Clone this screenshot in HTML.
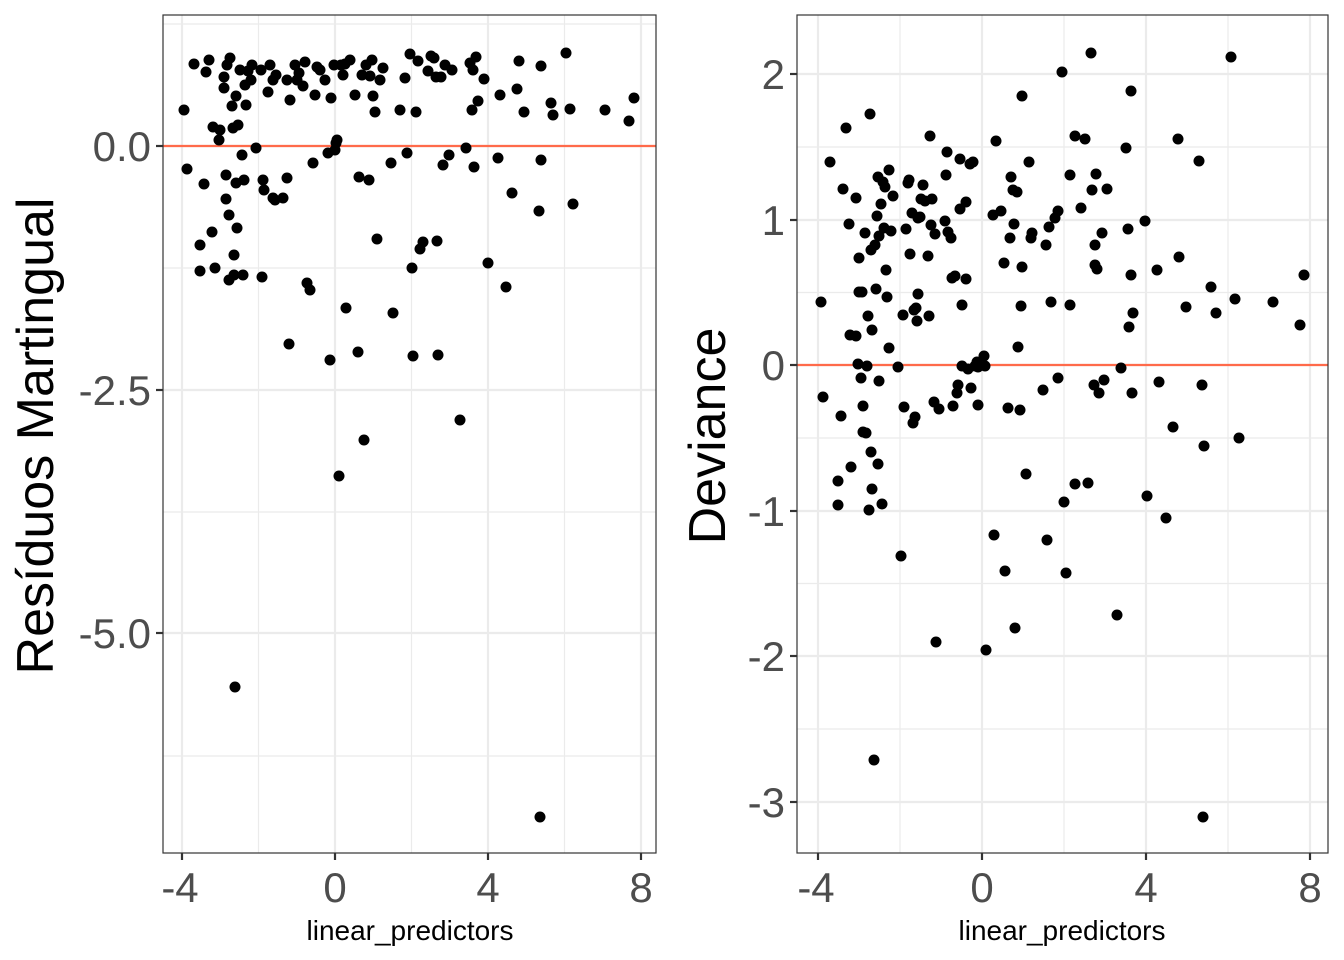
<!DOCTYPE html>
<html><head><meta charset="utf-8"><style>body{margin:0;background:#fff}svg{display:block}</style></head><body>
<svg width="1344" height="960" xmlns="http://www.w3.org/2000/svg" font-family="Liberation Sans, Arial, sans-serif">
<rect width="1344" height="960" fill="#fff"/>
<!-- LEFT PANEL -->
<g stroke="#ebebeb" stroke-width="1.2">
<line x1="163" x2="656" y1="24" y2="24"/><line x1="163" x2="656" y1="268" y2="268"/><line x1="163" x2="656" y1="512" y2="512"/><line x1="163" x2="656" y1="756" y2="756"/>
<line x1="258.5" x2="258.5" y1="15" y2="853"/><line x1="411.5" x2="411.5" y1="15" y2="853"/><line x1="564.5" x2="564.5" y1="15" y2="853"/>
</g>
<g stroke="#ebebeb" stroke-width="2.2">
<line x1="163" x2="656" y1="146" y2="146"/><line x1="163" x2="656" y1="390" y2="390"/><line x1="163" x2="656" y1="633" y2="633"/>
<line x1="182" x2="182" y1="15" y2="853"/><line x1="335" x2="335" y1="15" y2="853"/><line x1="488" x2="488" y1="15" y2="853"/><line x1="641" x2="641" y1="15" y2="853"/>
</g>
<line x1="163" x2="656" y1="146" y2="146" stroke="#ff6a4a" stroke-width="2.2"/>
<g fill="#000">
<circle cx="184" cy="110" r="5.5"/><circle cx="187" cy="169" r="5.5"/><circle cx="194" cy="64" r="5.5"/><circle cx="200" cy="245" r="5.5"/><circle cx="200" cy="271" r="5.5"/><circle cx="204" cy="184" r="5.5"/><circle cx="206" cy="72" r="5.5"/><circle cx="209" cy="60" r="5.5"/><circle cx="212" cy="232" r="5.5"/><circle cx="213" cy="127" r="5.5"/><circle cx="215" cy="268" r="5.5"/><circle cx="219" cy="140" r="5.5"/><circle cx="220" cy="130" r="5.5"/><circle cx="224" cy="77" r="5.5"/><circle cx="224" cy="88" r="5.5"/><circle cx="226" cy="175" r="5.5"/><circle cx="226" cy="199" r="5.5"/><circle cx="227" cy="65" r="5.5"/><circle cx="229" cy="215" r="5.5"/><circle cx="229" cy="280" r="5.5"/><circle cx="230" cy="58" r="5.5"/><circle cx="232" cy="106" r="5.5"/><circle cx="233" cy="128" r="5.5"/><circle cx="234" cy="255" r="5.5"/><circle cx="234" cy="275" r="5.5"/><circle cx="235" cy="687" r="5.5"/><circle cx="236" cy="96" r="5.5"/><circle cx="236" cy="183" r="5.5"/><circle cx="237" cy="228" r="5.5"/><circle cx="238" cy="125" r="5.5"/><circle cx="240" cy="70" r="5.5"/><circle cx="242" cy="155" r="5.5"/><circle cx="243" cy="275" r="5.5"/><circle cx="244" cy="180" r="5.5"/><circle cx="245" cy="85" r="5.5"/><circle cx="246" cy="105" r="5.5"/><circle cx="248" cy="71" r="5.5"/><circle cx="251" cy="80" r="5.5"/><circle cx="252" cy="65" r="5.5"/><circle cx="256" cy="148" r="5.5"/><circle cx="261" cy="70" r="5.5"/><circle cx="262" cy="277" r="5.5"/><circle cx="263" cy="180" r="5.5"/><circle cx="264" cy="190" r="5.5"/><circle cx="268" cy="92" r="5.5"/><circle cx="270" cy="65" r="5.5"/><circle cx="273" cy="198" r="5.5"/><circle cx="273" cy="80" r="5.5"/><circle cx="275" cy="200" r="5.5"/><circle cx="276" cy="75" r="5.5"/><circle cx="283" cy="198" r="5.5"/><circle cx="287" cy="80" r="5.5"/><circle cx="287" cy="178" r="5.5"/><circle cx="289" cy="344" r="5.5"/><circle cx="290" cy="100" r="5.5"/><circle cx="295" cy="65" r="5.5"/><circle cx="297" cy="80" r="5.5"/><circle cx="299" cy="73" r="5.5"/><circle cx="303" cy="86" r="5.5"/><circle cx="305" cy="62" r="5.5"/><circle cx="307" cy="283" r="5.5"/><circle cx="310" cy="290" r="5.5"/><circle cx="313" cy="163" r="5.5"/><circle cx="315" cy="95" r="5.5"/><circle cx="317" cy="67" r="5.5"/><circle cx="320" cy="70" r="5.5"/><circle cx="325" cy="80" r="5.5"/><circle cx="328" cy="153" r="5.5"/><circle cx="330" cy="360" r="5.5"/><circle cx="331" cy="98" r="5.5"/><circle cx="334" cy="65" r="5.5"/><circle cx="335" cy="150" r="5.5"/><circle cx="336" cy="143" r="5.5"/><circle cx="337" cy="140" r="5.5"/><circle cx="339" cy="476" r="5.5"/><circle cx="341" cy="65" r="5.5"/><circle cx="343" cy="75" r="5.5"/><circle cx="345" cy="64" r="5.5"/><circle cx="346" cy="308" r="5.5"/><circle cx="350" cy="60" r="5.5"/><circle cx="355" cy="95" r="5.5"/><circle cx="358" cy="352" r="5.5"/><circle cx="359" cy="177" r="5.5"/><circle cx="362" cy="75" r="5.5"/><circle cx="364" cy="440" r="5.5"/><circle cx="366" cy="65" r="5.5"/><circle cx="369" cy="180" r="5.5"/><circle cx="370" cy="76" r="5.5"/><circle cx="372" cy="60" r="5.5"/><circle cx="373" cy="96" r="5.5"/><circle cx="375" cy="112" r="5.5"/><circle cx="377" cy="239" r="5.5"/><circle cx="380" cy="80" r="5.5"/><circle cx="383" cy="68" r="5.5"/><circle cx="391" cy="163" r="5.5"/><circle cx="393" cy="313" r="5.5"/><circle cx="400" cy="110" r="5.5"/><circle cx="405" cy="78" r="5.5"/><circle cx="407" cy="153" r="5.5"/><circle cx="410" cy="54" r="5.5"/><circle cx="412" cy="268" r="5.5"/><circle cx="413" cy="356" r="5.5"/><circle cx="416" cy="112" r="5.5"/><circle cx="418" cy="61" r="5.5"/><circle cx="420" cy="249" r="5.5"/><circle cx="423" cy="242" r="5.5"/><circle cx="428" cy="71" r="5.5"/><circle cx="431" cy="56" r="5.5"/><circle cx="434" cy="58" r="5.5"/><circle cx="436" cy="77" r="5.5"/><circle cx="437" cy="241" r="5.5"/><circle cx="438" cy="355" r="5.5"/><circle cx="441" cy="77" r="5.5"/><circle cx="443" cy="165" r="5.5"/><circle cx="445" cy="65" r="5.5"/><circle cx="449" cy="155" r="5.5"/><circle cx="452" cy="70" r="5.5"/><circle cx="460" cy="420" r="5.5"/><circle cx="466" cy="148" r="5.5"/><circle cx="470" cy="63" r="5.5"/><circle cx="472" cy="110" r="5.5"/><circle cx="473" cy="70" r="5.5"/><circle cx="474" cy="167" r="5.5"/><circle cx="476" cy="57" r="5.5"/><circle cx="478" cy="101" r="5.5"/><circle cx="484" cy="79" r="5.5"/><circle cx="488" cy="263" r="5.5"/><circle cx="498" cy="158" r="5.5"/><circle cx="500" cy="95" r="5.5"/><circle cx="506" cy="287" r="5.5"/><circle cx="512" cy="193" r="5.5"/><circle cx="517" cy="89" r="5.5"/><circle cx="519" cy="61" r="5.5"/><circle cx="524" cy="112" r="5.5"/><circle cx="539" cy="211" r="5.5"/><circle cx="540" cy="817" r="5.5"/><circle cx="541" cy="160" r="5.5"/><circle cx="541" cy="66" r="5.5"/><circle cx="551" cy="103" r="5.5"/><circle cx="553" cy="115" r="5.5"/><circle cx="566" cy="53" r="5.5"/><circle cx="570" cy="109" r="5.5"/><circle cx="573" cy="204" r="5.5"/><circle cx="605" cy="110" r="5.5"/><circle cx="629" cy="121" r="5.5"/><circle cx="634" cy="98" r="5.5"/>
</g>
<rect x="163" y="15" width="493" height="838" fill="none" stroke="#333" stroke-width="1.2"/>
<g stroke="#333" stroke-width="2.2">
<line x1="156" x2="163" y1="146" y2="146"/><line x1="156" x2="163" y1="390" y2="390"/><line x1="156" x2="163" y1="633" y2="633"/>
<line x1="182" x2="182" y1="853" y2="860"/><line x1="335" x2="335" y1="853" y2="860"/><line x1="488" x2="488" y1="853" y2="860"/><line x1="641" x2="641" y1="853" y2="860"/>
</g>
<g fill="#4d4d4d" font-size="42" text-anchor="end">
<text x="151" y="161">0.0</text><text x="151" y="405">-2.5</text><text x="151" y="648">-5.0</text>
</g>
<g fill="#4d4d4d" font-size="42" text-anchor="middle">
<text x="180" y="902">-4</text><text x="335" y="902">0</text><text x="488" y="902">4</text><text x="641" y="902">8</text>
</g>
<text x="410" y="940" font-size="28" text-anchor="middle">linear_predictors</text>
<text transform="translate(53,436) rotate(-90)" font-size="52" text-anchor="middle">Resíduos Martingual</text>

<!-- RIGHT PANEL -->
<g stroke="#ebebeb" stroke-width="1.2">
<line x1="797" x2="1328" y1="147" y2="147"/><line x1="797" x2="1328" y1="292.5" y2="292.5"/><line x1="797" x2="1328" y1="438" y2="438"/><line x1="797" x2="1328" y1="583.5" y2="583.5"/><line x1="797" x2="1328" y1="729" y2="729"/>
<line x1="900" x2="900" y1="15" y2="853"/><line x1="1064" x2="1064" y1="15" y2="853"/><line x1="1228" x2="1228" y1="15" y2="853"/>
</g>
<g stroke="#ebebeb" stroke-width="2.2">
<line x1="797" x2="1328" y1="74" y2="74"/><line x1="797" x2="1328" y1="220" y2="220"/><line x1="797" x2="1328" y1="365" y2="365"/><line x1="797" x2="1328" y1="511" y2="511"/><line x1="797" x2="1328" y1="656" y2="656"/><line x1="797" x2="1328" y1="802" y2="802"/>
<line x1="818" x2="818" y1="15" y2="853"/><line x1="982" x2="982" y1="15" y2="853"/><line x1="1146" x2="1146" y1="15" y2="853"/><line x1="1310" x2="1310" y1="15" y2="853"/>
</g>
<line x1="797" x2="1328" y1="365" y2="365" stroke="#ff6a4a" stroke-width="2.2"/>
<g fill="#000">
<circle cx="821" cy="302" r="5.5"/><circle cx="823" cy="397" r="5.5"/><circle cx="830" cy="162" r="5.5"/><circle cx="838" cy="481" r="5.5"/><circle cx="838" cy="505" r="5.5"/><circle cx="841" cy="416" r="5.5"/><circle cx="843" cy="189" r="5.5"/><circle cx="846" cy="128" r="5.5"/><circle cx="849" cy="224" r="5.5"/><circle cx="850" cy="335" r="5.5"/><circle cx="851" cy="467" r="5.5"/><circle cx="856" cy="336" r="5.5"/><circle cx="856" cy="198" r="5.5"/><circle cx="858" cy="364" r="5.5"/><circle cx="859" cy="258" r="5.5"/><circle cx="859" cy="292" r="5.5"/><circle cx="861" cy="378" r="5.5"/><circle cx="862" cy="292" r="5.5"/><circle cx="863" cy="406" r="5.5"/><circle cx="863" cy="432" r="5.5"/><circle cx="865" cy="233" r="5.5"/><circle cx="866" cy="433" r="5.5"/><circle cx="867" cy="366" r="5.5"/><circle cx="868" cy="316" r="5.5"/><circle cx="869" cy="510" r="5.5"/><circle cx="870" cy="114" r="5.5"/><circle cx="871" cy="250" r="5.5"/><circle cx="871" cy="452" r="5.5"/><circle cx="872" cy="330" r="5.5"/><circle cx="872" cy="489" r="5.5"/><circle cx="874" cy="760" r="5.5"/><circle cx="875" cy="245" r="5.5"/><circle cx="876" cy="289" r="5.5"/><circle cx="877" cy="216" r="5.5"/><circle cx="878" cy="464" r="5.5"/><circle cx="878" cy="177" r="5.5"/><circle cx="879" cy="381" r="5.5"/><circle cx="879" cy="236" r="5.5"/><circle cx="881" cy="204" r="5.5"/><circle cx="882" cy="504" r="5.5"/><circle cx="883" cy="182" r="5.5"/><circle cx="884" cy="228" r="5.5"/><circle cx="885" cy="187" r="5.5"/><circle cx="886" cy="270" r="5.5"/><circle cx="887" cy="297" r="5.5"/><circle cx="889" cy="170" r="5.5"/><circle cx="889" cy="348" r="5.5"/><circle cx="891" cy="231" r="5.5"/><circle cx="893" cy="196" r="5.5"/><circle cx="898" cy="367" r="5.5"/><circle cx="901" cy="556" r="5.5"/><circle cx="903" cy="315" r="5.5"/><circle cx="904" cy="407" r="5.5"/><circle cx="906" cy="229" r="5.5"/><circle cx="908" cy="183" r="5.5"/><circle cx="909" cy="180" r="5.5"/><circle cx="910" cy="254" r="5.5"/><circle cx="912" cy="213" r="5.5"/><circle cx="913" cy="423" r="5.5"/><circle cx="914" cy="310" r="5.5"/><circle cx="915" cy="417" r="5.5"/><circle cx="916" cy="308" r="5.5"/><circle cx="917" cy="321" r="5.5"/><circle cx="918" cy="294" r="5.5"/><circle cx="918" cy="218" r="5.5"/><circle cx="920" cy="217" r="5.5"/><circle cx="921" cy="199" r="5.5"/><circle cx="923" cy="185" r="5.5"/><circle cx="925" cy="201" r="5.5"/><circle cx="928" cy="256" r="5.5"/><circle cx="929" cy="316" r="5.5"/><circle cx="930" cy="136" r="5.5"/><circle cx="931" cy="225" r="5.5"/><circle cx="932" cy="199" r="5.5"/><circle cx="934" cy="402" r="5.5"/><circle cx="935" cy="234" r="5.5"/><circle cx="936" cy="642" r="5.5"/><circle cx="939" cy="409" r="5.5"/><circle cx="945" cy="221" r="5.5"/><circle cx="946" cy="175" r="5.5"/><circle cx="947" cy="152" r="5.5"/><circle cx="948" cy="232" r="5.5"/><circle cx="951" cy="238" r="5.5"/><circle cx="952" cy="278" r="5.5"/><circle cx="953" cy="406" r="5.5"/><circle cx="955" cy="276" r="5.5"/><circle cx="957" cy="393" r="5.5"/><circle cx="958" cy="385" r="5.5"/><circle cx="960" cy="159" r="5.5"/><circle cx="960" cy="209" r="5.5"/><circle cx="962" cy="305" r="5.5"/><circle cx="962" cy="366" r="5.5"/><circle cx="966" cy="279" r="5.5"/><circle cx="966" cy="202" r="5.5"/><circle cx="968" cy="369" r="5.5"/><circle cx="970" cy="164" r="5.5"/><circle cx="971" cy="388" r="5.5"/><circle cx="973" cy="162" r="5.5"/><circle cx="975" cy="366" r="5.5"/><circle cx="977" cy="362" r="5.5"/><circle cx="978" cy="405" r="5.5"/><circle cx="978" cy="367" r="5.5"/><circle cx="984" cy="356" r="5.5"/><circle cx="985" cy="366" r="5.5"/><circle cx="986" cy="650" r="5.5"/><circle cx="993" cy="215" r="5.5"/><circle cx="994" cy="535" r="5.5"/><circle cx="996" cy="141" r="5.5"/><circle cx="1001" cy="211" r="5.5"/><circle cx="1004" cy="263" r="5.5"/><circle cx="1005" cy="571" r="5.5"/><circle cx="1008" cy="408" r="5.5"/><circle cx="1010" cy="238" r="5.5"/><circle cx="1011" cy="177" r="5.5"/><circle cx="1013" cy="190" r="5.5"/><circle cx="1014" cy="224" r="5.5"/><circle cx="1015" cy="628" r="5.5"/><circle cx="1017" cy="192" r="5.5"/><circle cx="1018" cy="347" r="5.5"/><circle cx="1020" cy="410" r="5.5"/><circle cx="1021" cy="306" r="5.5"/><circle cx="1022" cy="267" r="5.5"/><circle cx="1022" cy="96" r="5.5"/><circle cx="1026" cy="474" r="5.5"/><circle cx="1029" cy="162" r="5.5"/><circle cx="1031" cy="238" r="5.5"/><circle cx="1032" cy="233" r="5.5"/><circle cx="1043" cy="390" r="5.5"/><circle cx="1046" cy="245" r="5.5"/><circle cx="1047" cy="540" r="5.5"/><circle cx="1049" cy="227" r="5.5"/><circle cx="1051" cy="302" r="5.5"/><circle cx="1055" cy="218" r="5.5"/><circle cx="1058" cy="378" r="5.5"/><circle cx="1058" cy="211" r="5.5"/><circle cx="1062" cy="72" r="5.5"/><circle cx="1064" cy="502" r="5.5"/><circle cx="1066" cy="573" r="5.5"/><circle cx="1070" cy="305" r="5.5"/><circle cx="1070" cy="175" r="5.5"/><circle cx="1075" cy="136" r="5.5"/><circle cx="1075" cy="484" r="5.5"/><circle cx="1081" cy="208" r="5.5"/><circle cx="1085" cy="139" r="5.5"/><circle cx="1088" cy="483" r="5.5"/><circle cx="1091" cy="53" r="5.5"/><circle cx="1092" cy="190" r="5.5"/><circle cx="1094" cy="385" r="5.5"/><circle cx="1095" cy="245" r="5.5"/><circle cx="1096" cy="174" r="5.5"/><circle cx="1095" cy="265" r="5.5"/><circle cx="1097" cy="269" r="5.5"/><circle cx="1099" cy="393" r="5.5"/><circle cx="1102" cy="233" r="5.5"/><circle cx="1104" cy="380" r="5.5"/><circle cx="1107" cy="189" r="5.5"/><circle cx="1117" cy="615" r="5.5"/><circle cx="1121" cy="368" r="5.5"/><circle cx="1126" cy="148" r="5.5"/><circle cx="1128" cy="229" r="5.5"/><circle cx="1129" cy="327" r="5.5"/><circle cx="1131" cy="91" r="5.5"/><circle cx="1131" cy="275" r="5.5"/><circle cx="1132" cy="393" r="5.5"/><circle cx="1133" cy="313" r="5.5"/><circle cx="1145" cy="221" r="5.5"/><circle cx="1147" cy="496" r="5.5"/><circle cx="1157" cy="270" r="5.5"/><circle cx="1159" cy="382" r="5.5"/><circle cx="1166" cy="518" r="5.5"/><circle cx="1173" cy="427" r="5.5"/><circle cx="1178" cy="139" r="5.5"/><circle cx="1179" cy="257" r="5.5"/><circle cx="1186" cy="307" r="5.5"/><circle cx="1199" cy="161" r="5.5"/><circle cx="1202" cy="385" r="5.5"/><circle cx="1203" cy="817" r="5.5"/><circle cx="1204" cy="446" r="5.5"/><circle cx="1211" cy="287" r="5.5"/><circle cx="1216" cy="313" r="5.5"/><circle cx="1231" cy="57" r="5.5"/><circle cx="1235" cy="299" r="5.5"/><circle cx="1239" cy="438" r="5.5"/><circle cx="1273" cy="302" r="5.5"/><circle cx="1300" cy="325" r="5.5"/><circle cx="1304" cy="275" r="5.5"/>
</g>
<rect x="797" y="15" width="531" height="838" fill="none" stroke="#333" stroke-width="1.2"/>
<g stroke="#333" stroke-width="2.2">
<line x1="790" x2="797" y1="74" y2="74"/><line x1="790" x2="797" y1="220" y2="220"/><line x1="790" x2="797" y1="365" y2="365"/><line x1="790" x2="797" y1="511" y2="511"/><line x1="790" x2="797" y1="656" y2="656"/><line x1="790" x2="797" y1="802" y2="802"/>
<line x1="818" x2="818" y1="853" y2="860"/><line x1="982" x2="982" y1="853" y2="860"/><line x1="1146" x2="1146" y1="853" y2="860"/><line x1="1310" x2="1310" y1="853" y2="860"/>
</g>
<g fill="#4d4d4d" font-size="42" text-anchor="end">
<text x="785" y="89">2</text><text x="785" y="235">1</text><text x="785" y="380">0</text><text x="785" y="526">-1</text><text x="785" y="671">-2</text><text x="785" y="817">-3</text>
</g>
<g fill="#4d4d4d" font-size="42" text-anchor="middle">
<text x="816" y="902">-4</text><text x="982" y="902">0</text><text x="1146" y="902">4</text><text x="1310" y="902">8</text>
</g>
<text x="1062" y="940" font-size="28" text-anchor="middle">linear_predictors</text>
<text transform="translate(725,436) rotate(-90)" font-size="52" text-anchor="middle">Deviance</text>
</svg>
</body></html>
